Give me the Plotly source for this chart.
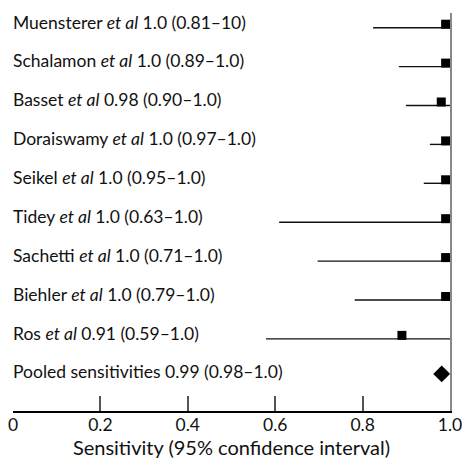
import plotly.graph_objects as go

studies = ["Muensterer", "Schalamon", "Basset", "Doraiswamy", "Seikel",
           "Tidey", "Sachetti", "Biehler", "Ros"]
estimate_text = ["1.0 (0.81–10)", "1.0 (0.89–1.0)", "0.98 (0.90–1.0)",
                 "1.0 (0.97–1.0)", "1.0 (0.95–1.0)", "1.0 (0.63–1.0)",
                 "1.0 (0.71–1.0)", "1.0 (0.79–1.0)", "0.91 (0.59–1.0)"]
point_est = [0.99, 0.99, 0.98, 0.99, 0.99, 0.99, 0.99, 0.99, 0.89]
lower_ci = [0.824, 0.883, 0.899, 0.954, 0.94, 0.609, 0.697, 0.782, 0.579]
upper_ci = [1.0, 1.0, 1.0, 1.0, 1.0, 1.0, 1.0, 1.0, 1.0]
pooled_label = "Pooled sensitivities 0.99 (0.98–1.0)"
pooled_est = 0.981
pooled_row = 8.9

tick_vals = [0, 0.2, 0.4, 0.6, 0.8, 1.0]
tick_text = ["0", "0.2", "0.4", "0.6", "0.8", "1.0"]

FONT = "Lato"
rows = list(range(len(studies)))

fig = go.Figure()

# CI lines
for r, lo, hi in zip(rows, lower_ci, upper_ci):
    fig.add_trace(go.Scatter(x=[lo, hi], y=[r, r], mode="lines",
                             line=dict(color="#111111", width=1.4),
                             hoverinfo="skip", showlegend=False, yaxis="y"))

# squares (sit on the CI line)
fig.add_trace(go.Scatter(x=point_est, y=rows, mode="markers",
                         marker=dict(symbol="square", size=9, color="black"),
                         showlegend=False, yaxis="y2"))

# pooled diamond
fig.add_trace(go.Scatter(x=[pooled_est], y=[pooled_row], mode="markers",
                         marker=dict(symbol="diamond", size=13, color="black"),
                         showlegend=False, yaxis="y"))

# labels
labels = [f"{s} <i>et al</i> {e}" for s, e in zip(studies, estimate_text)]
fig.add_trace(go.Scatter(x=[0] * len(studies), y=rows, mode="text",
                         text=labels, textposition="middle right",
                         textfont=dict(family=FONT, size=17.5, color="#111111"),
                         showlegend=False, hoverinfo="skip", yaxis="y2"))
fig.add_trace(go.Scatter(x=[0], y=[pooled_row], mode="text",
                         text=[pooled_label], textposition="middle right",
                         textfont=dict(family=FONT, size=17.5, color="#111111"),
                         showlegend=False, hoverinfo="skip", yaxis="y"))

top, bot = -0.378, 9.854
shift = 0.09
fig.update_layout(
    width=464, height=465,
    margin=dict(l=13, r=14, t=13, b=54),
    paper_bgcolor="white", plot_bgcolor="white",
    font=dict(family=FONT, size=16, color="#111111"),
    xaxis=dict(range=[0, 1], tickvals=tick_vals, ticktext=tick_text,
               automargin=False,
               showline=True, linecolor="black", linewidth=1.5,
               ticks="inside", ticklen=15, tickwidth=1.5, tickcolor="#555555",
               ticklabelstandoff=-3,
               showgrid=False, zeroline=False,
               tickfont=dict(family=FONT, size=17.5, color="#111111"),
               title=dict(text="Sensitivity (95% confidence interval)",
                          font=dict(family=FONT, size=20, color="#111111"),
                          standoff=4)),
    yaxis=dict(range=[bot, top], showline=True, side="right",
               automargin=False,
               linecolor="#888888", linewidth=1.5,
               showticklabels=False, ticks="", showgrid=False, zeroline=False),
    yaxis2=dict(range=[bot + shift, top + shift], overlaying="y",
                automargin=False,
                showline=False, showticklabels=False, ticks="",
                showgrid=False, zeroline=False),
)

fig.write_html("out.html", config={"displayModeBar": False},
               post_script="document.body.style.margin='0px';")
